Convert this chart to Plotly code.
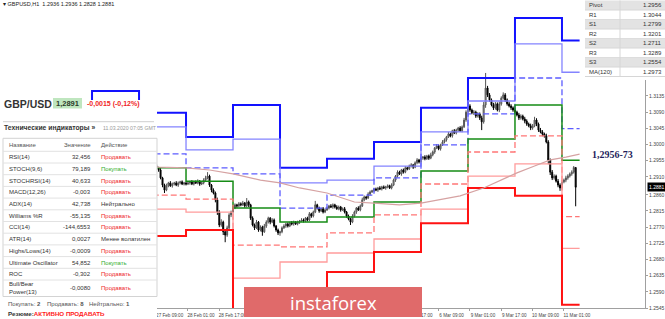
import plotly.graph_objects as go

# ---------------- data ----------------
day_labels = ["25 Feb", "26 Feb", "27 Feb", "28 Feb", "2 Mar", "3 Mar", "4 Mar",
              "5 Mar", "6 Mar", "9 Mar", "10 Mar", "11 Mar"]
day_start_bar = [-24, 0, 24, 48, 72, 96, 120, 144, 168, 192, 216, 240]
last_bar = 249

R3 = [1.3100, 1.3149, 1.3088, 1.3021, 1.3110, 1.2935, 1.2960, 1.3007, 1.3102, 1.3185, 1.3352, 1.3289]
R2 = [1.3060, 1.3100, 1.3049, 1.2985, 1.3015, 1.2893, 1.2901, 1.2940, 1.3035, 1.3121, 1.3280, 1.3201]
R1 = [1.3010, 1.3040, 1.2974, 1.2935, 1.2918, 1.2823, 1.2859, 1.2907, 1.2999, 1.3085, 1.3185, 1.3044]
PV = [1.2960, 1.2990, 1.2935, 1.2898, 1.2823, 1.2784, 1.2798, 1.2840, 1.2926, 1.3015, 1.3110, 1.2956]
S1 = [1.2900, 1.2930, 1.2859, 1.2848, 1.2720, 1.2715, 1.2754, 1.2804, 1.2890, 1.2979, 1.3024, 1.2799]
S2 = [1.2850, 1.2880, 1.2820, 1.2812, 1.2628, 1.2673, 1.2698, 1.2737, 1.2820, 1.2912, 1.2946, 1.2711]
S3 = [1.2790, 1.2820, 1.2745, 1.2762, 1.2450, 1.2500, 1.2645, 1.2701, 1.2781, 1.2879, 1.2857, 1.2554]

ma_bar = [24, 34, 48, 60, 72, 86, 96, 106, 120, 134, 144, 157, 168, 178, 188, 200, 208, 217, 226, 234, 242, 249]
ma_val = [1.2940, 1.2937, 1.2935, 1.2929, 1.2918, 1.2901, 1.2893, 1.2879, 1.2865, 1.2840, 1.2837,
          1.2832, 1.2837, 1.2846, 1.2857, 1.2879, 1.2898, 1.2921, 1.2940, 1.2957, 1.2965, 1.2973]

first_bar = 33          # 27 Feb 09:00
first_open_pips = 12940
close_pips = (
    [12935, 12929, 12907, 12887, 12873, 12885, 12893, 12885, 12890, 12893, 12887, 12893, 12896, 12890, 12893]
    + [12890, 12893, 12896, 12890, 12896, 12893, 12898, 12890, 12893, 12901, 12907, 12912,
       12887, 12873, 12865, 12846, 12812, 12776, 12784, 12757, 12748, 12768, 12804, 12812]
    + [12823, 12832, 12829, 12835, 12832, 12837, 12829, 12840, 12832, 12795, 12776, 12768,
       12784, 12762, 12770, 12757, 12773, 12784, 12795, 12784, 12790, 12773, 12762, 12754]
    + [12757, 12768, 12773, 12779, 12773, 12782, 12779, 12784, 12779, 12784, 12787, 12790,
       12787, 12795, 12790, 12807, 12801, 12812, 12832, 12823, 12815, 12821, 12812, 12818]
    + [12823, 12829, 12826, 12832, 12826, 12821, 12826, 12818, 12821, 12812, 12801, 12793,
       12784, 12801, 12812, 12823, 12818, 12829, 12846, 12854, 12851, 12862, 12868, 12871]
    + [12876, 12873, 12879, 12876, 12882, 12879, 12882, 12885, 12879, 12887, 12901, 12912,
       12923, 12918, 12929, 12923, 12935, 12932, 12940, 12943, 12937, 12949, 12957, 12951]
    + [12962, 12965, 12960, 12968, 12962, 12971, 12979, 12990, 12996, 12988, 12999, 13007,
       13013, 13021, 13029, 13024, 13038, 13032, 13040, 13046, 13038, 13049, 13068, 13090]
    + [13107, 13096, 13088, 13090, 13079, 13085, 13074, 13063, 13110, 13157, 13138, 13124,
       13110, 13102, 13113, 13096, 13113, 13129, 13138, 13124, 13113, 13107, 13102, 13096]
    + [13090, 13082, 13074, 13079, 13071, 13065, 13057, 13052, 13046, 13052, 13068, 13057,
       13040, 13035, 13029, 13024, 13007, 12957, 12923, 12907, 12912, 12898, 12887, 12879]
    + [12896, 12901, 12907, 12912, 12918, 12923, 12936, 12881]
)
upper_wick_pips = (
    [4, 3, 5, 3, 4, 6, 3, 5, 4, 3, 5, 4, 3, 4, 3]
    + [3, 4, 3, 5, 3, 4, 5, 3, 4, 5, 6, 11, 4, 3, 5, 4, 6, 5, 8, 4, 3, 6, 5, 4]
    + [5, 4, 3, 5, 4, 6, 3, 11, 4, 3, 5, 4, 6, 3, 5, 4, 6, 5, 4, 3, 5, 4, 3, 4]
    + [3, 4, 5, 3, 4, 3, 5, 4, 3, 4, 3, 5, 4, 3, 4, 5, 3, 4, 11, 3, 4, 3, 5, 4]
    + [4, 3, 5, 4, 3, 5, 4, 3, 4, 5, 3, 4, 3, 5, 4, 3, 5, 4, 6, 4, 3, 5, 4, 3]
    + [3, 4, 3, 5, 3, 4, 3, 4, 3, 5, 4, 3, 5, 4, 3, 4, 5, 3, 4, 5, 3, 4, 5, 3]
    + [4, 3, 5, 3, 4, 6, 4, 3, 5, 4, 3, 5, 4, 3, 6, 4, 3, 5, 4, 3, 5, 4, 6, 5]
    + [17, 5, 4, 6, 4, 5, 4, 6, 8, 42, 6, 5, 4, 6, 5, 4, 6, 5, 7, 5, 4, 6, 5, 4]
    + [5, 4, 6, 5, 4, 6, 5, 4, 6, 5, 9, 5, 4, 6, 5, 4, 6, 5, 4, 6, 5, 4, 6, 5]
    + [5, 4, 6, 5, 4, 5, 4, 0]
)
lower_wick_pips = (
    [3, 5, 4, 6, 8, 3, 4, 3, 5, 4, 3, 5, 4, 3, 4]
    + [4, 3, 5, 3, 4, 3, 4, 5, 3, 4, 3, 4, 5, 6, 4, 7, 8, 6, 5, 9, 20, 5, 4, 6]
    + [4, 3, 5, 3, 4, 3, 5, 4, 6, 5, 4, 6, 3, 5, 4, 11, 3, 5, 4, 6, 3, 4, 5, 6]
    + [8, 4, 3, 5, 4, 3, 4, 5, 3, 4, 5, 3, 4, 3, 4, 3, 5, 4, 3, 4, 5, 3, 4, 3]
    + [3, 4, 3, 5, 4, 3, 4, 5, 3, 4, 5, 4, 8, 3, 4, 5, 3, 4, 3, 4, 5, 3, 4, 3]
    + [4, 3, 5, 3, 4, 3, 5, 4, 3, 4, 3, 5, 4, 3, 5, 4, 3, 4, 3, 4, 5, 3, 4, 4]
    + [3, 5, 4, 3, 5, 3, 4, 5, 3, 4, 5, 3, 4, 5, 3, 4, 5, 3, 4, 5, 3, 4, 3, 5]
    + [6, 5, 4, 6, 5, 4, 6, 23, 5, 8, 6, 5, 4, 6, 5, 4, 6, 5, 4, 6, 5, 4, 6, 5]
    + [5, 4, 6, 5, 4, 6, 5, 4, 6, 5, 4, 6, 5, 4, 6, 5, 4, 12, 8, 6, 5, 4, 6, 8]
    + [5, 4, 6, 5, 4, 5, 4, 53]
)

# time labels visible in the reference (the ones under the banner are hidden there)
xtick_bars = [33, 49, 65, 161, 177, 193, 209, 225, 241]
xtick_labels = ["27 Feb 09:00", "28 Feb 01:00", "28 Feb 17:00", "5 Mar 17:00", "6 Mar 09:00",
                "9 Mar 01:00", "9 Mar 17:00", "10 Mar 09:00", "11 Mar 01:00"]
ytick_vals = [1.3135, 1.3090, 1.3045, 1.3000, 1.2955, 1.2910, 1.2860, 1.2815, 1.2770,
              1.2725, 1.2680, 1.2635, 1.2590, 1.2545]

pivot_names = ["Pivot", "R1", "S1", "R2", "S2", "R3", "S3", "MA(120)"]
pivot_values = ["1.2956", "1.3044", "1.2799", "1.3201", "1.2711", "1.3289", "1.2554", "1.2973"]

ind_names = ["RSI(14)", "STOCH(9,6)", "STOCHRSI(14)", "MACD(12,26)", "ADX(14)", "Williams %R",
             "CCI(14)", "ATR(14)", "Highs/Lows(14)", "Ultimate Oscillator", "ROC", "Bull/Bear<br>Power(13)"]
ind_values = ["32,456", "79,189", "40,633", "-0,003", "42,738", "-55,135", "-144,6553",
              "0,0027", "-0,0009", "54,852", "-0,302", "-0,0080"]
ind_actions = ["Продавать", "Покупать", "Продавать", "Продавать", "Нейтрально", "Продавать",
               "Продавать", "Менее волатилен", "Продавать", "Покупать", "Продавать", "Продавать"]

current_price = 1.2881

# ---------------- figure ----------------
W, H = 665, 319
PW, PH = 645, 308


def fx(px):
    return px / PW


def fy(py):
    return (PH - py) / PH


fig = go.Figure()

levels = [
    (R3, dict(color="#1212ff", width=2)),
    (R2, dict(color="#8484ff", width=1.3)),
    (R1, dict(color="#5c5cff", width=1.3, dash="6px,3px")),
    (PV, dict(color="#168c16", width=1.5)),
    (S1, dict(color="#ff7676", width=1.3, dash="6px,3px")),
    (S2, dict(color="#ff9c9c", width=1.3)),
    (S3, dict(color="#ff1212", width=2)),
]
for vals, ln in levels:
    fig.add_trace(go.Scatter(
        x=day_start_bar + [last_bar], y=vals + [vals[-1]], mode="lines",
        line=dict(shape="hv", **ln), hoverinfo="skip", showlegend=False))

fig.add_trace(go.Scatter(x=ma_bar, y=ma_val, mode="lines",
                         line=dict(color="#d6a2a2", width=1.2),
                         hoverinfo="skip", showlegend=False))

closes = [c / 10000 for c in close_pips]
opens = [first_open_pips / 10000] + closes[:-1]
highs = [max(o, c) + u / 10000 for o, c, u in zip(opens, closes, upper_wick_pips)]
lows = [min(o, c) - d / 10000 for o, c, d in zip(opens, closes, lower_wick_pips)]
bar_x = list(range(first_bar, first_bar + len(closes)))

fig.add_trace(go.Candlestick(
    x=bar_x, open=opens, high=highs, low=lows, close=closes,
    increasing=dict(line=dict(color="#555555", width=1), fillcolor="#b5b5b5"),
    decreasing=dict(line=dict(color="#000000", width=1), fillcolor="#000000"),
    whiskerwidth=0, showlegend=False, hoverinfo="skip"))

XFONT = dict(size=4.6, color="#444444", family="Liberation Sans, Arial, sans-serif")
YFONT = dict(size=5, color="#444444", family="Liberation Sans, Arial, sans-serif")
fig.update_xaxes(range=[-47, 282.4], showgrid=False, zeroline=False, showline=True,
                 linecolor="#a0a0a0", linewidth=1, tickmode="array", tickvals=xtick_bars,
                 ticktext=xtick_labels, ticks="outside", ticklen=2, tickcolor="#a0a0a0",
                 tickfont=XFONT, tickangle=0, ticklabelshift=13,
                 rangeslider_visible=False, fixedrange=True)
fig.update_yaxes(range=[1.2545, 1.3402], side="right", showgrid=False, zeroline=False,
                 showline=True, linecolor="#a0a0a0", linewidth=1, tickmode="array",
                 tickvals=ytick_vals, ticktext=[f"{v:.4f}" for v in ytick_vals],
                 ticks="outside", ticklen=2, tickcolor="#a0a0a0", tickfont=YFONT,
                 fixedrange=True)

shapes = []
annos = []
SANS = "Liberation Sans, Arial, sans-serif"


def rect(x0, y0, x1, y1, fill, line=None, lw=0):
    shapes.append(dict(type="rect", xref="paper", yref="paper", x0=fx(x0), x1=fx(x1),
                       y0=fy(y1), y1=fy(y0), fillcolor=fill, layer="above",
                       line=dict(color=line or fill, width=lw)))


def hline(x0, x1, py, color, lw=1):
    shapes.append(dict(type="line", xref="paper", yref="paper", x0=fx(x0), x1=fx(x1),
                       y0=fy(py), y1=fy(py), layer="above", line=dict(color=color, width=lw)))


def vline(px, y0, y1, color, lw=1):
    shapes.append(dict(type="line", xref="paper", yref="paper", x0=fx(px), x1=fx(px),
                       y0=fy(y0), y1=fy(y1), layer="above", line=dict(color=color, width=lw)))


def text(px, py, s, size=6, color="#333333", anchor="left", family=SANS, **kw):
    annos.append(dict(xref="paper", yref="paper", x=fx(px), y=fy(py), text=s,
                      showarrow=False, xanchor=anchor, yanchor="middle",
                      align=anchor if anchor != "center" else "center",
                      font=dict(size=size, color=color, family=family), borderpad=0, **kw))


# left panel
rect(0, 100, 157, 319, "#ffffff")
rect(53, 98, 82, 108.5, "#bfe6bf")
hline(3, 154, 121.7, "#cfcfcf")
rect(3, 138.3, 157, 296.5, "rgba(0,0,0,0)", "#d3d3d3", 1)
for k in range(12):
    hline(3, 157, 151.3 + 11.7 * k, "#e2e2e2")

text(2, 4, "▾ GBPUSD,H1  1.2936 1.2936 1.2828 1.2881", 5.5, "#222222")
text(3, 103.5, "<b>GBP/USD</b>", 10.5, "#333333")
text(67.5, 103.5, "<b>1,2891</b>", 7.5, "#2b3a2b", anchor="center")
text(86, 104, "<b>-0,0015 (-0,12%)</b>", 7, "#f01e1e")
text(3, 127.5, "<b>Технические индикаторы »</b>", 6.8, "#333333")
text(102, 127.5, "11.03.2020 07:05 GMT", 5.2, "#9a9a9a")
text(8, 145, "Название", 6, "#555555")
text(92, 145, "Значение", 6, "#555555", anchor="right")
text(100, 145, "Действие", 6, "#555555")
for k, (n, v, a) in enumerate(zip(ind_names, ind_values, ind_actions)):
    yc = 157.2 + 11.7 * k if k < 11 else 288
    col = "#ee2a2a" if a == "Продавать" else ("#2fae2f" if a == "Покупать" else "#333333")
    text(8, yc, n, 6, "#333333")
    text(92, yc, v, 6, "#333333", anchor="right")
    text(100, yc, a, 6, col)
text(7, 304.3, "Покупать: <b>2</b>", 6, "#555555")
text(46, 304.3, "Продавать: <b>8</b>", 6, "#555555")
text(88, 304.3, "Нейтрально: <b>1</b>", 6, "#555555")
text(7, 313.3, "<b>Резюме:</b><b><span style='color:#ff1a1a'>АКТИВНО ПРОДАВАТЬ</span></b>",
     6.2, "#333333")

# pivot table (top right)
rect(585, 0, 665, 80, "#ffffff")
for k, (n, v) in enumerate(zip(pivot_names, pivot_values)):
    y0 = 0.5 + 9.5 * k
    if k % 2 == 0:
        rect(585, y0, 665, y0 + 9.5, "#e3e3e3")
    hline(585, 665, y0 + 9.5, "#d6d6d6")
    text(588, y0 + 4.75, n, 6, "#333333")
    text(663, y0 + 4.75, v, 6, "#333333", anchor="right")
vline(620, 0.5, 76.5, "#d6d6d6")

# level note
text(612, 154, "<b>1,2956-73</b>", 10, "#1f1f5c", anchor="center",
     family="Liberation Serif, Times New Roman, serif")

# current price tag
annos.append(dict(xref="paper", yref="y", x=fx(646.5), y=current_price, text="1.2881",
                  showarrow=False, xanchor="left", yanchor="middle", bgcolor="#000000",
                  font=dict(size=5, color="#ffffff", family=SANS), borderpad=1))

# instaforex banner
rect(244, 287, 422, 317, "#e06a6a")
text(333, 302, "instaforex", 18.5, "#ffffff", anchor="center",
     family="Open Sans, Liberation Sans, sans-serif")

fig.update_layout(width=W, height=H, autosize=False,
                  margin=dict(l=0, r=W - PW, t=0, b=H - PH, pad=0),
                  paper_bgcolor="#ffffff", plot_bgcolor="#ffffff",
                  shapes=shapes, annotations=annos, showlegend=False,
                  hovermode=False)

fig.write_html("out.html", config={"displayModeBar": False, "staticPlot": True})
